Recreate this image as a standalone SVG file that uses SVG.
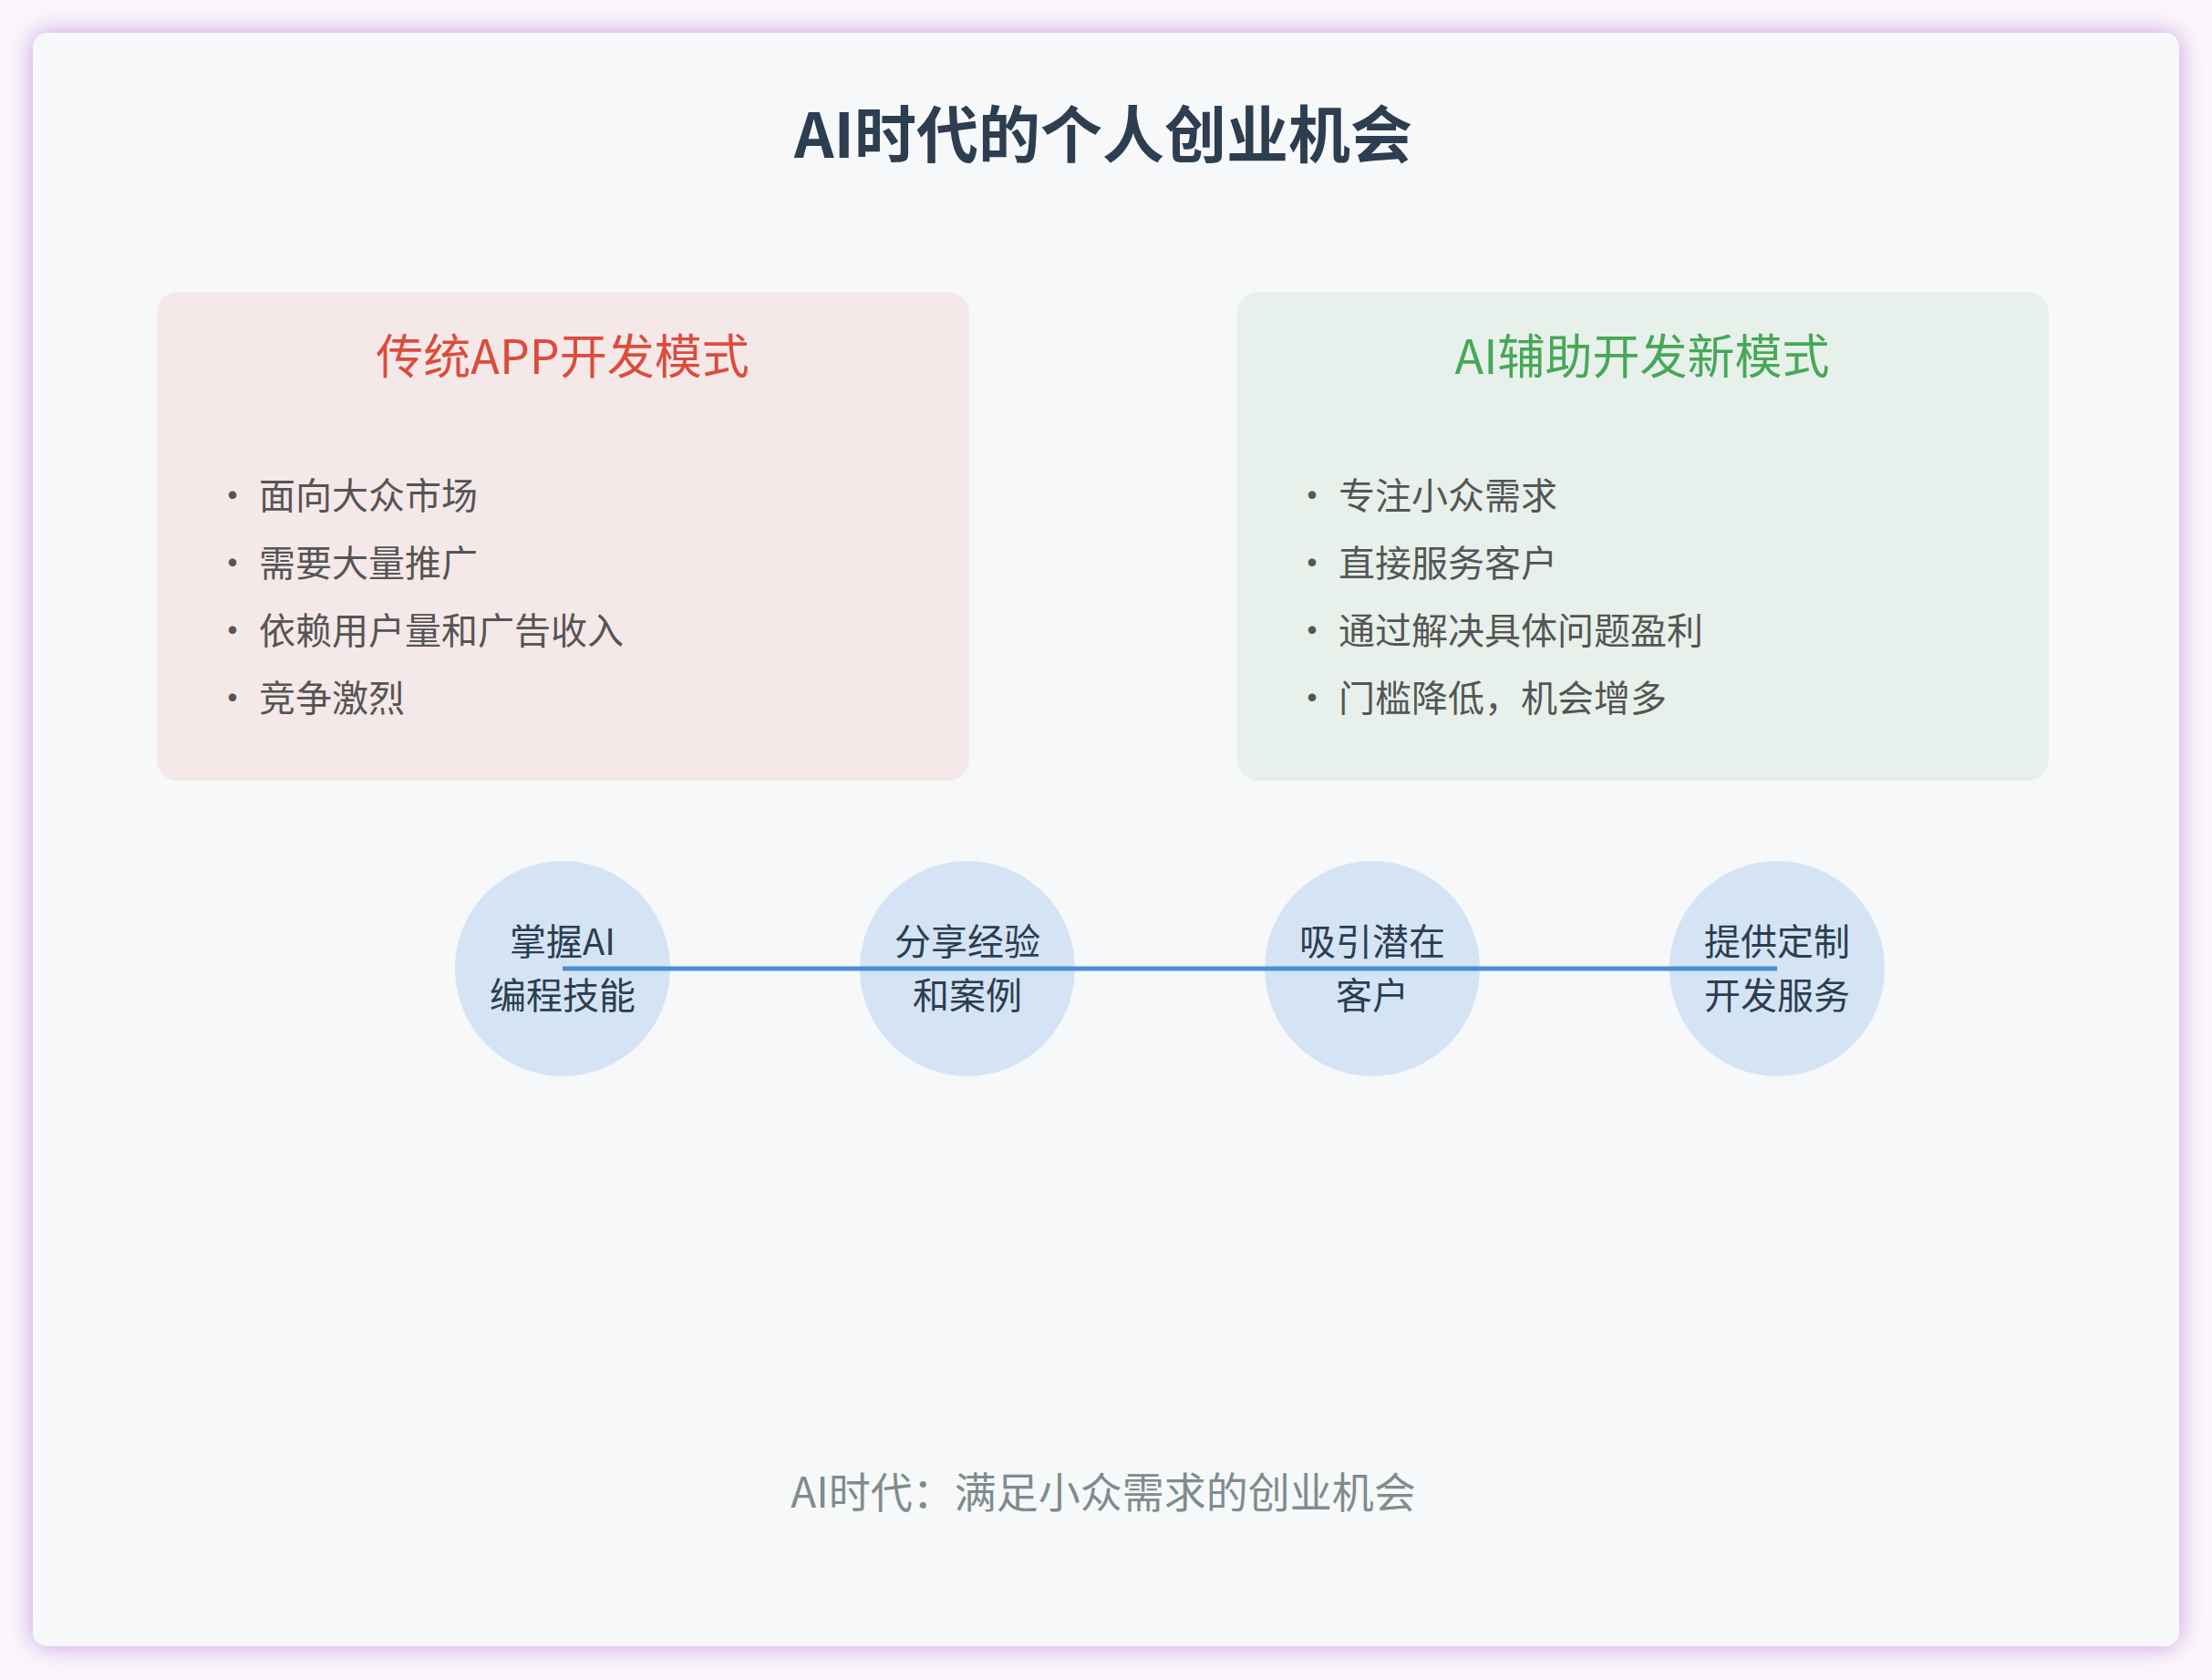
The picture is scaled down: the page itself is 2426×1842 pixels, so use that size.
<svg xmlns="http://www.w3.org/2000/svg" width="2426" height="1842" viewBox="0 0 2426 1842">
<defs>
<filter id="glow" x="-10%" y="-10%" width="120%" height="120%"><feGaussianBlur stdDeviation="14"/></filter>
<style>
text{font-family:"Noto Sans CJK SC","Noto Sans",sans-serif}
.b{font-size:40px;fill:#555}
.c{font-size:40px;fill:#2c3e50;text-anchor:middle}
.circ{fill:#d4e4f4}
</style>
</defs>
<rect width="2426" height="1842" fill="#fbf7fc"/>
<rect x="36" y="36" width="2354" height="1769" rx="15" fill="#c79ae0" filter="url(#glow)"/>
<rect x="36" y="36" width="2354" height="1769" rx="15" fill="#f7f8fa"/>
<text x="1210" y="173" text-anchor="middle" font-size="68" font-weight="bold" fill="#2c3e50">AI时代的个人创业机会</text>
<g id="traditional">
<rect x="172" y="320" width="891" height="536" rx="23" fill="#f5e8e8"/>
<text x="617" y="410" text-anchor="middle" font-size="52" fill="#dc4c3c">传统APP开发模式</text>
<text x="235" y="558" class="b">• 面向大众市场</text>
<text x="235" y="632" class="b">• 需要大量推广</text>
<text x="235" y="706" class="b">• 依赖用户量和广告收入</text>
<text x="235" y="780" class="b">• 竞争激烈</text>
</g>
<g id="ai">
<rect x="1357" y="320" width="890" height="536" rx="23" fill="#e7f0ea"/>
<text x="1801" y="410" text-anchor="middle" font-size="52" fill="#46a857">AI辅助开发新模式</text>
<text x="1419" y="558" class="b">• 专注小众需求</text>
<text x="1419" y="632" class="b">• 直接服务客户</text>
<text x="1419" y="706" class="b">• 通过解决具体问题盈利</text>
<text x="1419" y="780" class="b">• 门槛降低，机会增多</text>
</g>
<g id="s1"><circle cx="617" cy="1062" r="118" class="circ"/></g>
<g id="s2"><circle cx="1061" cy="1062" r="118" class="circ"/></g>
<g id="s3"><circle cx="1505" cy="1062" r="118" class="circ"/></g>
<g id="s4"><circle cx="1949" cy="1062" r="118" class="circ"/></g>
<g id="connectors"><line x1="617" y1="1062" x2="1949" y2="1062" stroke="#4a8fd4" stroke-width="5"/></g>
<g id="labels">
<text x="617" y="1047" class="c">掌握AI</text><text x="617" y="1106" class="c">编程技能</text>
<text x="1061" y="1047" class="c">分享经验</text><text x="1061" y="1106" class="c">和案例</text>
<text x="1505" y="1047" class="c">吸引潜在</text><text x="1505" y="1106" class="c">客户</text>
<text x="1949" y="1047" class="c">提供定制</text><text x="1949" y="1106" class="c">开发服务</text>
</g>
<text x="1210" y="1653" text-anchor="middle" font-size="46" fill="#7f8c8d">AI时代：满足小众需求的创业机会</text>
</svg>
